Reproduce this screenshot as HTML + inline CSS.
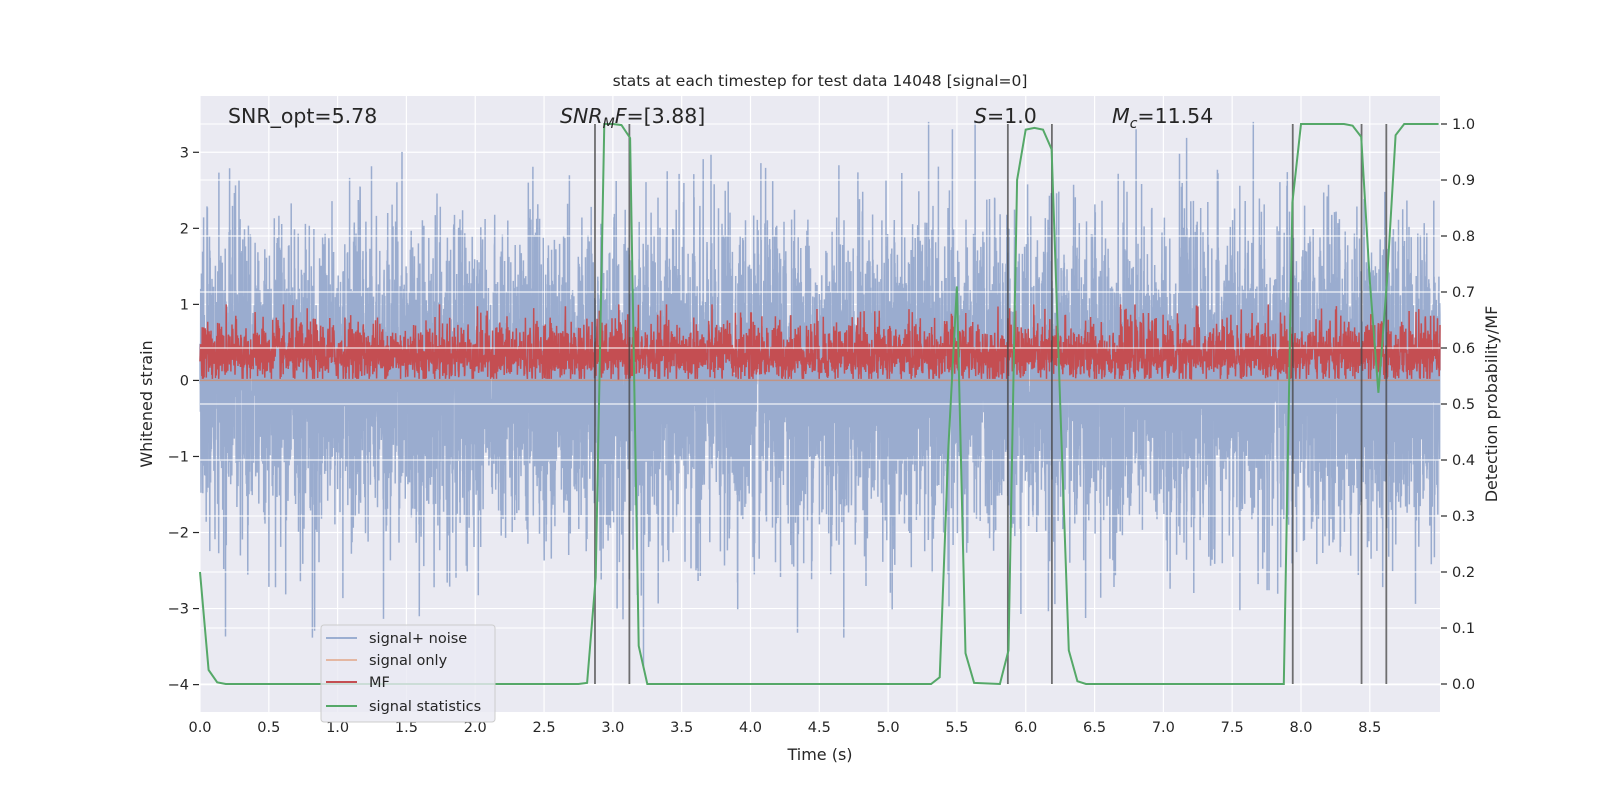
<!DOCTYPE html>
<html><head><meta charset="utf-8"><style>
html,body{margin:0;padding:0;background:#fff;}
svg{display:block;font-family:"DejaVu Sans","Liberation Sans",sans-serif;}
</style></head><body>
<svg id="chart" width="1600" height="800" viewBox="0 0 1600 800" xmlns="http://www.w3.org/2000/svg">
<rect x="200" y="96" width="1240" height="616" fill="#eaeaf2"/>
<g id="grid"></g>
<g id="noise"></g>
<g id="mf"></g>
<line id="sigonly" stroke="#dd8452" stroke-opacity="0.6" stroke-width="1.5"/>
<g id="grid2"></g>
<g id="vlines"></g>
<g id="stat"></g>
<g id="axes"></g>
<text x="820" y="86" font-size="15.5" text-anchor="middle" fill="#262626">stats at each timestep for test data 14048 [signal=0]</text>
<text x="820" y="760" font-size="16" text-anchor="middle" fill="#262626">Time (s)</text>
<text transform="translate(152,404) rotate(-90)" font-size="16" text-anchor="middle" fill="#262626">Whitened strain</text>
<text transform="translate(1497,404) rotate(-90)" font-size="16" text-anchor="middle" fill="#262626">Detection probability/MF</text>
<text x="228" y="123" font-size="20.5" fill="#262626">SNR_opt=5.78</text>
<text x="560" y="123" font-size="20.5" fill="#262626"><tspan font-style="italic">SNR</tspan><tspan font-style="italic" font-size="14" dy="5">M</tspan><tspan font-style="italic" dy="-5">F</tspan><tspan>=[3.88]</tspan></text>
<text x="974" y="123" font-size="20.5" fill="#262626"><tspan font-style="italic">S</tspan>=1.0</text>
<text x="1112" y="123" font-size="20.5" fill="#262626"><tspan font-style="italic">M</tspan><tspan font-style="italic" font-size="14" dy="5">c</tspan><tspan dy="-5">=11.54</tspan></text>
<g>
<rect x="321" y="625" width="174" height="97" rx="3" fill="#eaeaf2" fill-opacity="0.8" stroke="#cccccc"/>
<g><line x1="326" y1="638" x2="357" y2="638" stroke="#4c72b0" stroke-opacity="0.5" stroke-width="2"/><text x="369" y="643" font-size="14.5" fill="#262626">signal+ noise</text></g>
<g><line x1="326" y1="660" x2="357" y2="660" stroke="#dd8452" stroke-opacity="0.5" stroke-width="2"/><text x="369" y="665" font-size="14.5" fill="#262626">signal only</text></g>
<g><line x1="326" y1="682" x2="357" y2="682" stroke="#c44e52" stroke-width="2"/><text x="369" y="687" font-size="14.5" fill="#262626">MF</text></g>
<g><line x1="326" y1="706" x2="357" y2="706" stroke="#55a868" stroke-width="2"/><text x="369" y="711" font-size="14.5" fill="#262626">signal statistics</text></g>
</g>
</svg>
<script>
// ---- data ----
const xTicks = [0,0.5,1,1.5,2,2.5,3,3.5,4,4.5,5,5.5,6,6.5,7,7.5,8,8.5];
const xTickLabels = ["0.0","0.5","1.0","1.5","2.0","2.5","3.0","3.5","4.0","4.5","5.0","5.5","6.0","6.5","7.0","7.5","8.0","8.5"];
const yTicks = [-4,-3,-2,-1,0,1,2,3];
const y2Ticks = [0,0.1,0.2,0.3,0.4,0.5,0.6,0.7,0.8,0.9,1.0];
const y2TickLabels = ["0.0","0.1","0.2","0.3","0.4","0.5","0.6","0.7","0.8","0.9","1.0"];
const statTimes = [0,0.0625,0.125,0.1875,2.75,2.8125,2.875,2.9375,3.0,3.0625,3.125,3.1875,3.25,5.3125,5.375,5.4375,5.5,5.5625,5.625,5.8125,5.875,5.9375,6.0,6.0625,6.125,6.1875,6.25,6.3125,6.375,6.4375,7.875,7.9375,8.0,8.3125,8.375,8.4375,8.5,8.5625,8.625,8.6875,8.75,9.0];
const statValues = [0.2,0.025,0.003,0,0,0.002,0.19,1.0,1.0,0.998,0.975,0.068,0.0,0.0,0.012,0.42,0.71,0.055,0.002,0.0,0.06,0.9,0.99,0.993,0.99,0.955,0.5,0.06,0.005,0.0,0.0,0.86,1.0,1.0,0.997,0.977,0.72,0.52,0.72,0.98,1.0,1.0];
const markerTimes = [2.87,3.12,5.87,6.19,7.94,8.44,8.62];
const noiseStd = 1.0;
const mfMean = 0.32, mfStd = 0.16;

// ---- axes ----
const X0=200,X1=1440,Y0=96,Y1=712;
const xMin=0,xMax=9.01, yMin=-4.36,yMax=3.74, y2Min=-0.05,y2Max=1.05;
const sx=t=>X0+(t-xMin)/(xMax-xMin)*(X1-X0);
const sy=v=>Y1-(v-yMin)/(yMax-yMin)*(Y1-Y0);
const sy2=v=>Y1-(v-y2Min)/(y2Max-y2Min)*(Y1-Y0);
const NS="http://www.w3.org/2000/svg";
function mk(tag,attrs,parent){const e=document.createElementNS(NS,tag);for(const k in attrs)e.setAttribute(k,attrs[k]);parent.appendChild(e);return e;}
const grid=document.getElementById('grid'), grid2=document.getElementById('grid2'), axes=document.getElementById('axes');
xTicks.forEach((t,i)=>{
  const l=mk('line',{x1:sx(t),x2:sx(t),y1:Y0,y2:Y1,stroke:'#fff','stroke-width':1.2},grid);
  
  
  const tx=mk('text',{x:sx(t),y:Y1+20,'font-size':14.5,'text-anchor':'middle',fill:'#262626'},axes);
  tx.textContent=xTickLabels[i];
  
  
});
yTicks.forEach(v=>{
  const l=mk('line',{x1:X0,x2:X1,y1:sy(v),y2:sy(v),stroke:'#fff','stroke-width':1.2},grid);
  
  
  mk('line',{x1:193,x2:199,y1:sy(v),y2:sy(v),stroke:'#262626','stroke-width':1.2},axes);
  const tx=mk('text',{x:189,y:sy(v)+5,'font-size':14.5,'text-anchor':'end',fill:'#262626'},axes);
  tx.textContent=(v<0?'\u2212'+(-v):String(v));
  
  
});
y2Ticks.forEach((v,i)=>{
  const l=mk('line',{x1:X0,x2:X1,y1:sy2(v),y2:sy2(v),stroke:'#fff','stroke-width':1.2,'stroke-opacity':0.85},grid2);
  
  
  mk('line',{x1:1441,x2:1447,y1:sy2(v),y2:sy2(v),stroke:'#262626','stroke-width':1.2},axes);
  const tx=mk('text',{x:1452,y:sy2(v)+5,'font-size':14.5,'text-anchor':'start',fill:'#262626'},axes);
  tx.textContent=y2TickLabels[i];
  
  
});

// ---- noise texture (deterministic) ----
let seed=14048;
function rnd(){seed=(seed*1103515245+12345)%2147483648;return seed/2147483648;}
function gauss(){let u=rnd()||1e-9,v=rnd();return Math.sqrt(-2*Math.log(u))*Math.cos(2*Math.PI*v);}
const N=9000;let pn='',pm='';
for(let i=0;i<=N;i++){
  const t=i/N*xMax;
  const v=Math.max(-4.2,Math.min(3.4,gauss()*noiseStd));
  pn+=(i?'L':'M')+sx(t).toFixed(1)+','+sy(v).toFixed(1);
}
const M=4500;
for(let i=0;i<=M;i++){
  const t=i/M*xMax;
  let g=gauss();
  if(g>0) g*=1.5;
  const m=Math.max(0.02,Math.min(1.0,mfMean+g*mfStd));
  pm+=(i?'L':'M')+sx(t).toFixed(1)+','+sy(m).toFixed(1);
}
mk('path',{d:pn,fill:'none',stroke:'#9aaccf','stroke-width':1.5},document.getElementById('noise'));
mk('path',{d:pm,fill:'none',stroke:'#c44e52','stroke-width':1.5},document.getElementById('mf'));
const so=document.getElementById('sigonly');
so.setAttribute('x1',X0);so.setAttribute('x2',X1);so.setAttribute('y1',sy(0));so.setAttribute('y2',sy(0));

// ---- markers ----
markerTimes.forEach(t=>{
  const l=mk('line',{x1:sx(t),x2:sx(t),y1:sy2(1),y2:sy2(0),stroke:'#444','stroke-opacity':0.75,'stroke-width':1.8},document.getElementById('vlines'));
  
  
});
// ---- statistics line ----
let ps='';statTimes.forEach((t,i)=>{ps+=(i?'L':'M')+sx(t).toFixed(1)+','+sy2(statValues[i]).toFixed(1);});
const sp=mk('path',{d:ps,fill:'none',stroke:'#55a868','stroke-width':2},document.getElementById('stat'));


</script>
</body></html>
